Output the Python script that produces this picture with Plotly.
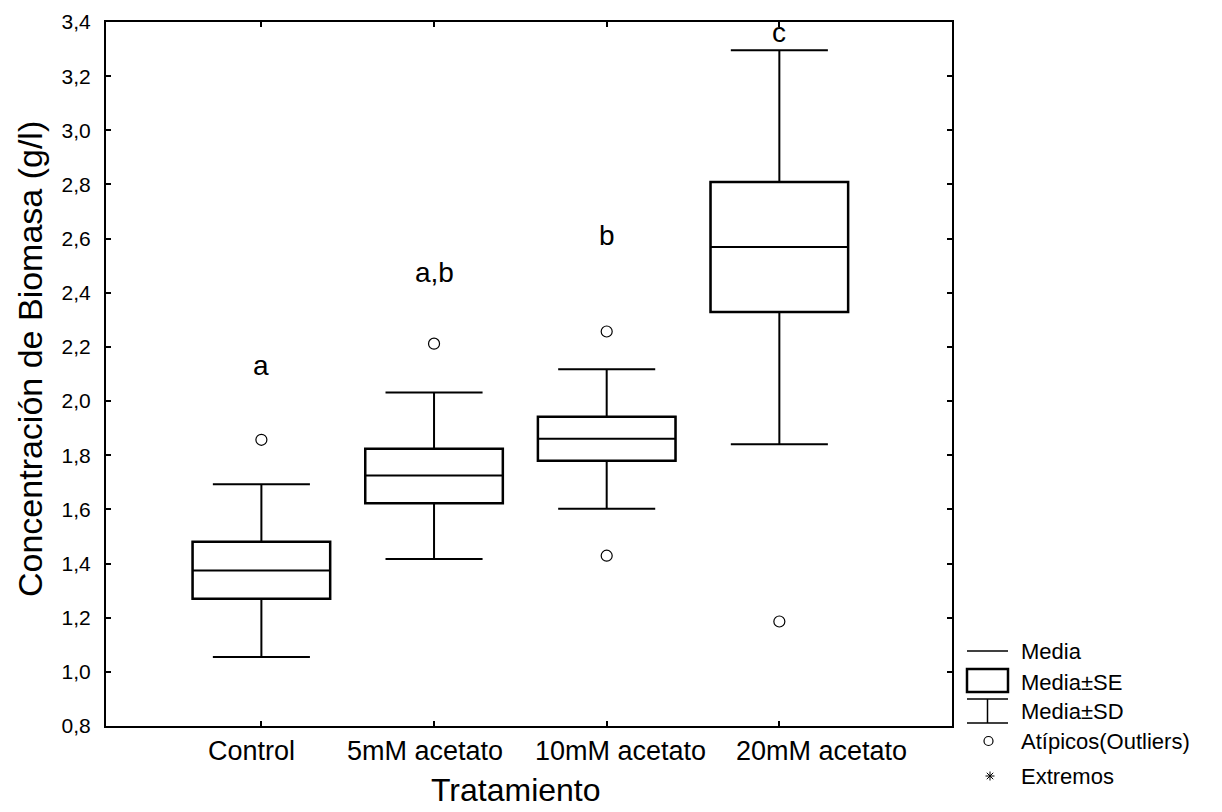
import plotly.graph_objects as go

# Treatment groups and their summary statistics (g/l)
tratamientos = ["Control", "5mM acetato", "10mM acetato", "20mM acetato"]
media = [1.374, 1.725, 1.861, 2.569]
media_menos_se = [1.271, 1.624, 1.781, 2.330]
media_mas_se = [1.480, 1.823, 1.941, 2.808]
media_menos_sd = [1.055, 1.417, 1.602, 1.841]
media_mas_sd = [1.693, 2.032, 2.118, 3.296]
atipicos = [[1.857], [2.212], [2.257, 1.429], [1.186]]

# Significance letters and the height they sit at
letras = ["a", "a,b", "b", "c"]
letras_y = [2.13, 2.474, 2.61, 3.36]

y_ticks = [0.8, 1.0, 1.2, 1.4, 1.6, 1.8, 2.0, 2.2, 2.4, 2.6, 2.8, 3.0, 3.2, 3.4]

FONT = "Liberation Sans, Arial, sans-serif"
W, H = 1222, 812
L, R, T, B = 106, 270, 22, 86
PW, PH = W - L - R, H - T - B


def px(x):
    return (x - L) / PW


def py(y):
    return (H - B - y) / PH


pos = list(range(len(tratamientos)))
box_w = 0.794
# horizontal nudge of each category label under its tick (category units)
label_shift = [-0.06, -0.05, 0.08, 0.245]

fig = go.Figure()

fig.add_trace(go.Box(
    x=pos,
    q1=media_menos_se,
    median=media,
    q3=media_mas_se,
    lowerfence=media_menos_sd,
    upperfence=media_mas_sd,
    boxpoints=False,
    width=box_w,
    whiskerwidth=0.708,
    fillcolor="white",
    line=dict(color="black", width=2),
    showlegend=False,
    hoverinfo="skip",
))

# heavier outline of the SE box
fig.add_trace(go.Bar(
    x=pos,
    base=media_menos_se,
    y=[hi - lo for hi, lo in zip(media_mas_se, media_menos_se)],
    width=box_w,
    marker=dict(color="rgba(0,0,0,0)", line=dict(color="black", width=3)),
    showlegend=False,
    hoverinfo="skip",
))

out_x = [i for i, vals in enumerate(atipicos) for _ in vals]
out_y = [v for vals in atipicos for v in vals]
fig.add_trace(go.Scatter(
    x=out_x, y=out_y, mode="markers",
    marker=dict(symbol="circle-open", size=11, color="black", line=dict(width=1.2)),
    showlegend=False, hoverinfo="skip",
))

annotations = []
for i, (txt, yy) in enumerate(zip(letras, letras_y)):
    annotations.append(dict(x=i, y=yy, xref="x", yref="y", text=txt, showarrow=False,
                            font=dict(family=FONT, size=28, color="black"),
                            xanchor="center", yanchor="middle"))

# category names under the axis
for i, txt in enumerate(tratamientos):
    annotations.append(dict(x=i + label_shift[i], y=py(751), xref="x", yref="paper", text=txt,
                            showarrow=False, font=dict(family=FONT, size=27, color="black"),
                            xanchor="center", yanchor="middle"))

annotations.append(dict(x=px(30), y=py(359), xref="paper", yref="paper",
                        text="Concentración de Biomasa (g/l)", textangle=-90, showarrow=False,
                        font=dict(family=FONT, size=34, color="black"),
                        xanchor="center", yanchor="middle"))
annotations.append(dict(x=px(516), y=py(790), xref="paper", yref="paper",
                        text="Tratamiento", showarrow=False,
                        font=dict(family=FONT, size=32, color="black"),
                        xanchor="center", yanchor="middle"))

# key on the lower right
shapes = []
lx0, lx1, lxc = 967, 1008, 987.5
blk = dict(color="black", width=1.5)
shapes.append(dict(type="line", xref="paper", yref="paper", x0=px(lx0), x1=px(lx1), y0=py(651), y1=py(651), line=blk))
shapes.append(dict(type="rect", xref="paper", yref="paper", x0=px(lx0), x1=px(lx1), y0=py(669), y1=py(692),
                   line=dict(color="black", width=2.5)))
shapes.append(dict(type="line", xref="paper", yref="paper", x0=px(lx0), x1=px(lx1), y0=py(699), y1=py(699), line=blk))
shapes.append(dict(type="line", xref="paper", yref="paper", x0=px(lx0), x1=px(lx1), y0=py(723), y1=py(723), line=blk))
shapes.append(dict(type="line", xref="paper", yref="paper", x0=px(lxc), x1=px(lxc), y0=py(699), y1=py(723), line=blk))
shapes.append(dict(type="circle", xref="paper", yref="paper", x0=px(984), x1=px(993), y0=py(736.5), y1=py(745.5),
                   line=dict(color="black", width=1.2)))
ax, ay, r = 990, 776, 4.5
thin = dict(color="black", width=1)
for dx, dy in [(r, 0), (0, r), (r * 0.72, r * 0.72), (r * 0.72, -r * 0.72)]:
    shapes.append(dict(type="line", xref="paper", yref="paper", x0=px(ax - dx), x1=px(ax + dx),
                       y0=py(ay - dy), y1=py(ay + dy), line=thin))

key_labels = [("Media", 651), ("Media±SE", 682), ("Media±SD", 711), ("Atípicos(Outliers)", 741), ("Extremos", 776)]
for txt, yy in key_labels:
    annotations.append(dict(x=px(1019), y=py(yy), xref="paper", yref="paper", text=txt, showarrow=False,
                            font=dict(family=FONT, size=22, color="black"),
                            xanchor="left", yanchor="middle"))

fig.update_layout(
    width=W, height=H,
    margin=dict(l=L, r=R, t=T, b=B, autoexpand=False),
    paper_bgcolor="white", plot_bgcolor="white",
    separators=",.",
    showlegend=False,
    annotations=annotations,
    shapes=shapes,
    font=dict(family=FONT, color="black"),
)
fig.update_xaxes(
    range=[-0.9, 4.0], tickvals=pos, showticklabels=False,
    showgrid=False, zeroline=False, automargin=False,
    showline=True, linecolor="black", linewidth=2, mirror="ticks",
    ticks="inside", ticklen=5, tickcolor="black", tickwidth=1.5,
)
fig.update_yaxes(
    range=[0.8, 3.4], tickvals=y_ticks, tickformat=".1f",
    showgrid=False, zeroline=False, automargin=False,
    showline=True, linecolor="black", linewidth=2, mirror="ticks",
    ticks="inside", ticklen=5, tickcolor="black", tickwidth=1.5,
    tickfont=dict(family=FONT, size=21, color="black"),
    ticklabelstandoff=9,
)

fig.write_html("out.html")
